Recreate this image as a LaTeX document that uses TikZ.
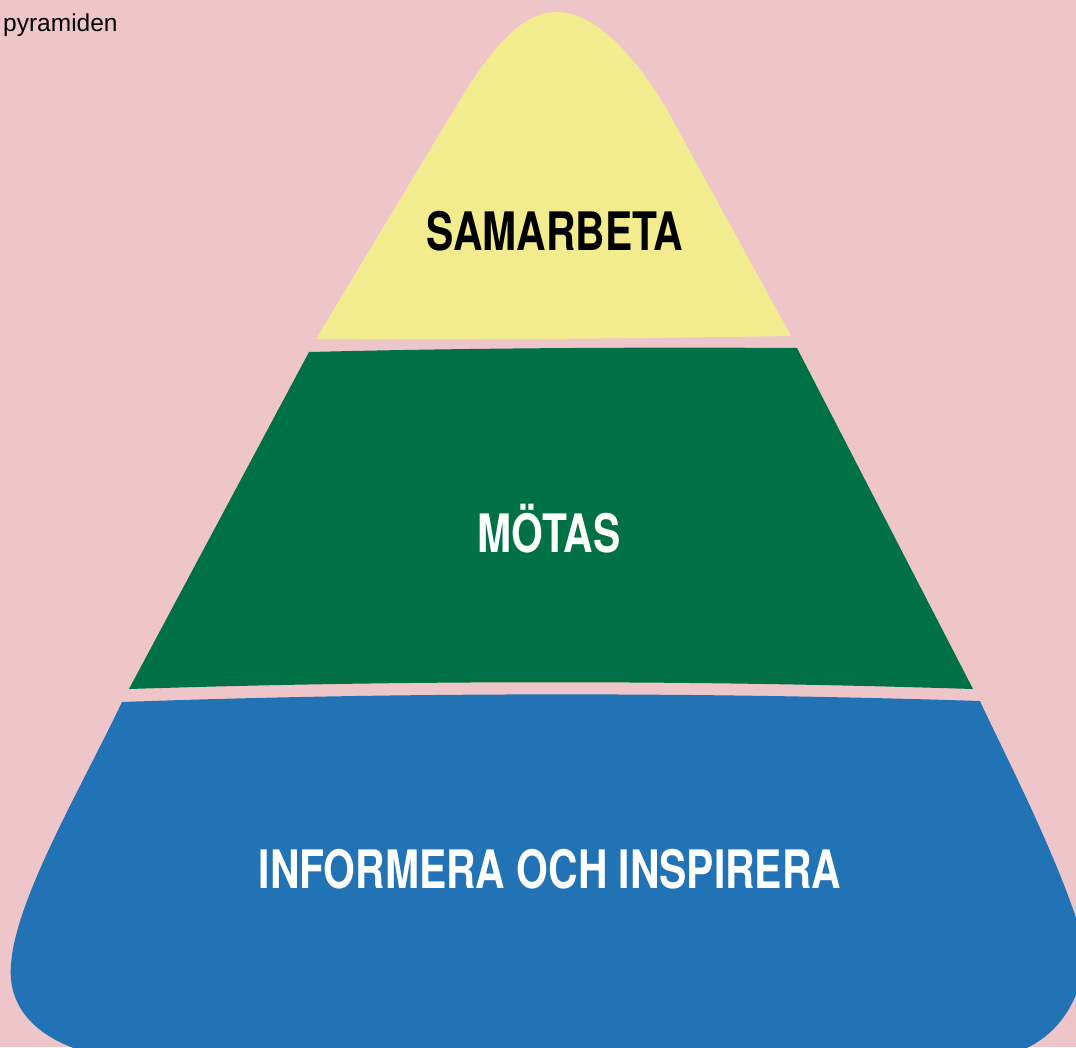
\documentclass[tikz,border=0pt]{standalone}
\usepackage{fontspec}
\setmainfont{Liberation Sans}
\newfontfamily\heavyfont[FakeStretch=0.77]{TeX Gyre Heros}
\usepackage{tikz}
\definecolor{bgpink}{RGB}{238,198,202}
\definecolor{topyellow}{RGB}{242,236,143}
\definecolor{midgreen}{RGB}{0,112,71}
\definecolor{baseblue}{RGB}{34,115,182}
\tikzset{
  layerlabel/.style={anchor=base, inner sep=0pt, font=\heavyfont\bfseries\fontsize{53}{60}\selectfont}
}

\begin{document}
\begin{tikzpicture}[x=1pt,y=-1pt]
        \useasboundingbox (0,0) rectangle (1076,1047);
        \fill[bgpink] (0,0) rectangle (1076,1047);
        \clip (0,0) rectangle (1076,1047);
        % layers of the pyramid
        \fill[topyellow] (316,339) -- (455,108) .. controls (491,48) and (522,12) .. (556,12)
            .. controls (592,12) and (630,48) .. (666,108) -- (791,336) .. controls (600,339) and (450,340) .. (316,339) -- cycle;
        \fill[midgreen] (309,352) .. controls (470,348) and (640,347) .. (797,348) -- (973,689)
            .. controls (690,680) and (410,680) .. (129,689) -- cycle;
        \fill[baseblue] (122,702) .. controls (400,692) and (700,692) .. (980,701)
            .. controls (1000,745) and (1055,850) .. (1080,930)
            .. controls (1095,985) and (1060,1052) .. (990,1058) -- (110,1058)
            .. controls (40,1045) and (7,1010) .. (11,965)
            .. controls (15,900) and (80,790) .. (122,702) -- cycle;
        \node[anchor=base west, inner sep=0pt, font=\fontsize{24.5}{29}\selectfont] (title) at (3,31) {pyramiden};
        \node[layerlabel, text=black] (samarbeta) at (555,250) {SAMARBETA};
        \node[layerlabel, text=white] (motas) at (549,552) {MÖTAS};
        \node[layerlabel, text=white] (informera) at (550,888) {INFORMERA OCH INSPIRERA};
    \end{tikzpicture}
\end{document}
